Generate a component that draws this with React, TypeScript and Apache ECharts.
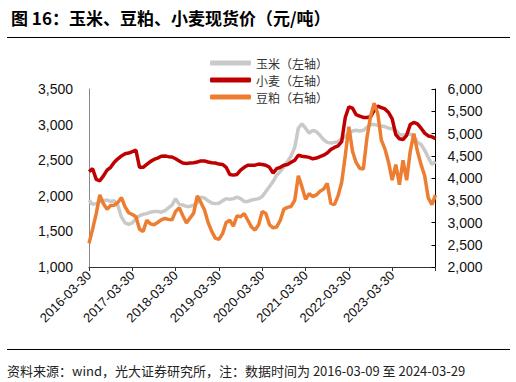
import React, { useEffect, useRef } from "react";
import * as echarts from "echarts";

// Monthly observations, 2016-03 … 2024-03
const startYear = 2016;
const startMonth = 3;
const monthCount = 97;
const months: string[] = [];
for (let k = 0; k < monthCount; k++) {
  const m = startMonth - 1 + k;
  const y = startYear + Math.floor(m / 12);
  const mm = (m % 12) + 1;
  months.push(`${y}-${mm < 10 ? "0" + mm : mm}`);
}

// 玉米（左轴）
const corn = [
  1940, 1880, 1890, 1920, 1930, 1940, 1920, 1930, 1860, 1700, 1620, 1600,
  1620, 1680, 1720, 1740, 1750, 1770, 1780, 1780, 1770, 1790, 1830, 1870,
  1960, 1880, 1870, 1850, 1850, 1870, 1900, 1980, 1970, 1930, 1900, 1890,
  1895, 1930, 1960, 1950, 1960, 1980, 1960, 1920, 1920, 1940, 1950, 1960,
  1990, 2060, 2130, 2200, 2290, 2340, 2410, 2480, 2560, 2680, 2950, 3010,
  2950, 2880, 2920, 2900, 2850, 2790, 2750, 2740, 2750, 2760, 2800, 2830,
  2880, 2910, 2920, 2910, 2920, 2960, 3000, 3000, 2990, 2980, 2970, 2950,
  2940, 2920, 2860, 2850, 2860, 2870, 2830, 2750, 2720, 2640, 2540, 2440,
  2480,
];

// 小麦（左轴）
const wheat = [
  2340, 2380, 2230, 2210, 2280, 2360, 2400, 2470, 2520, 2560, 2590, 2600,
  2620, 2640, 2400, 2400, 2440, 2480, 2510, 2530, 2555, 2560, 2550, 2545,
  2520, 2490, 2460, 2455, 2460, 2465, 2475, 2490, 2490, 2475, 2465, 2460,
  2445, 2440, 2400, 2300, 2290, 2300, 2360, 2400, 2430, 2430, 2430, 2445,
  2440, 2430, 2400, 2320, 2380, 2400, 2430, 2440, 2470, 2500, 2570, 2555,
  2550, 2540, 2520, 2530, 2550, 2570, 2600, 2650, 2680, 2700, 2760, 3100,
  3250, 3230, 3140, 3120, 3100, 3100, 3110, 3200, 3260, 3240, 3220, 3170,
  3080, 2860, 2800, 2790, 2850, 3000, 3030, 3010, 2950, 2880, 2840, 2830,
  2800,
];

// 豆粕（右轴）
const soymeal = [
  2530, 2850, 3200, 3620, 3420, 3300, 3380, 3390, 3450, 3560, 3350, 3220,
  3180, 3130, 2850, 2800, 3050, 2970, 2950, 3000, 3060, 3090, 3070, 3060,
  3250, 3330, 3150, 2990, 3100, 3210, 3600, 3450, 3280, 3000, 2800, 2650,
  2620, 2750, 3000, 3050, 2920, 3150, 3130, 3200, 3050, 2900, 2830, 2950,
  3250, 3200, 2950, 2880, 2900, 3050, 3300, 3340, 3360, 3500, 4050, 3800,
  3520, 3650, 3580, 3620, 3700, 3750, 3880, 3430, 3400, 3600, 3900, 4500,
  5150, 4600, 4350, 4220, 4200, 4900, 5380, 5680, 5450, 4850, 4650, 4350,
  3950, 4300, 3850, 4400, 3950, 4600, 5000, 4600, 4300, 4050, 3550, 3400,
  3620,
];

const seriesNames = ["玉米（左轴）", "小麦（左轴）", "豆粕（右轴）"];
const leftTicks = { min: 1000, max: 3500, interval: 500 };
const rightTicks = { min: 2000, max: 6000, interval: 500 };

const titleText = "图 16：玉米、豆粕、小麦现货价（元/吨）";
const sourceText = "资料来源：wind，光大证券研究所，注：数据时间为 2016-03-09 至 2024-03-29";

const fmt = (v: number) => v.toLocaleString("en-US");

export default function App() {
  const ref = useRef<HTMLDivElement>(null);
  useEffect(() => {
    if (!ref.current) return;
    const chart = echarts.init(ref.current, undefined, { renderer: "svg" });
    const cjk = '"Noto Sans CJK SC", "Noto Sans", sans-serif';
    const latin = '"Liberation Sans", Arial, sans-serif';
    chart.setOption({
      animation: false,
      backgroundColor: "#ffffff",
      title: {
        text: titleText,
        left: 6,
        top: 4,
        textStyle: { fontFamily: cjk, fontSize: 17, fontWeight: "bold", color: "#000" },
      },
      graphic: [
        { type: "line", shape: { x1: 7, y1: 37.5, x2: 510, y2: 37.5 }, style: { stroke: "#000", lineWidth: 1 } },
        { type: "line", shape: { x1: 7, y1: 349.5, x2: 510, y2: 349.5 }, style: { stroke: "#000", lineWidth: 1 } },
        {
          type: "text",
          left: 7,
          top: 364,
          style: { text: sourceText, font: `13px ${cjk}`, fill: "#222" },
        },
      ],
      legend: {
        orient: "vertical",
        left: 205,
        top: 49.5,
        itemWidth: 41,
        itemHeight: 5,
        itemGap: 0,
        icon: "roundRect",
        textStyle: { fontFamily: cjk, fontSize: 12, color: "#333", lineHeight: 17 },
        data: seriesNames,
      },
      grid: { left: 89, right: 80.5, top: 89, bottom: 115 },
      xAxis: {
        type: "category",
        data: months,
        boundaryGap: false,
        axisLine: { lineStyle: { color: "#333", width: 1 } },
        axisTick: {
          show: true,
          length: 4,
          interval: (i: number) => i % 12 === 0,
          lineStyle: { color: "#333" },
        },
        axisLabel: {
          interval: (i: number) => i % 12 === 0 && i < monthCount - 1,
          rotate: 45,
          margin: 6,
          fontFamily: latin,
          fontSize: 13,
          color: "#111",
          formatter: (v: string) => `${v}-30`,
        },
        splitLine: { show: false },
      },
      yAxis: [
        {
          type: "value",
          ...leftTicks,
          axisLine: { show: true, lineStyle: { color: "#888", width: 1 } },
          axisTick: { show: false },
          splitLine: { show: false },
          axisLabel: { margin: 16, fontFamily: latin, fontSize: 14, color: "#111", formatter: fmt },
        },
        {
          type: "value",
          ...rightTicks,
          position: "right",
          axisLine: { show: true, lineStyle: { color: "#000", width: 1 } },
          axisTick: { show: true, inside: true, length: 4, lineStyle: { color: "#000" } },
          splitLine: { show: false },
          axisLabel: { margin: 12, fontFamily: latin, fontSize: 14, color: "#111", formatter: fmt },
        },
      ],
      series: [
        {
          name: seriesNames[0],
          type: "line",
          yAxisIndex: 0,
          data: corn,
          showSymbol: false,
          lineStyle: { width: 3.5, color: "#c9c9c9" },
          itemStyle: { color: "#c9c9c9" },
        },
        {
          name: seriesNames[1],
          type: "line",
          yAxisIndex: 0,
          data: wheat,
          showSymbol: false,
          lineStyle: { width: 3.5, color: "#c00000" },
          itemStyle: { color: "#c00000" },
        },
        {
          name: seriesNames[2],
          type: "line",
          yAxisIndex: 1,
          data: soymeal,
          showSymbol: false,
          lineStyle: { width: 3.5, color: "#ed7d31" },
          itemStyle: { color: "#ed7d31" },
        },
      ],
    });
    return () => chart.dispose();
  }, []);
  return <div ref={ref} style={{ width: 516, height: 382, position: "absolute", left: 0, top: 0 }} />;
}
